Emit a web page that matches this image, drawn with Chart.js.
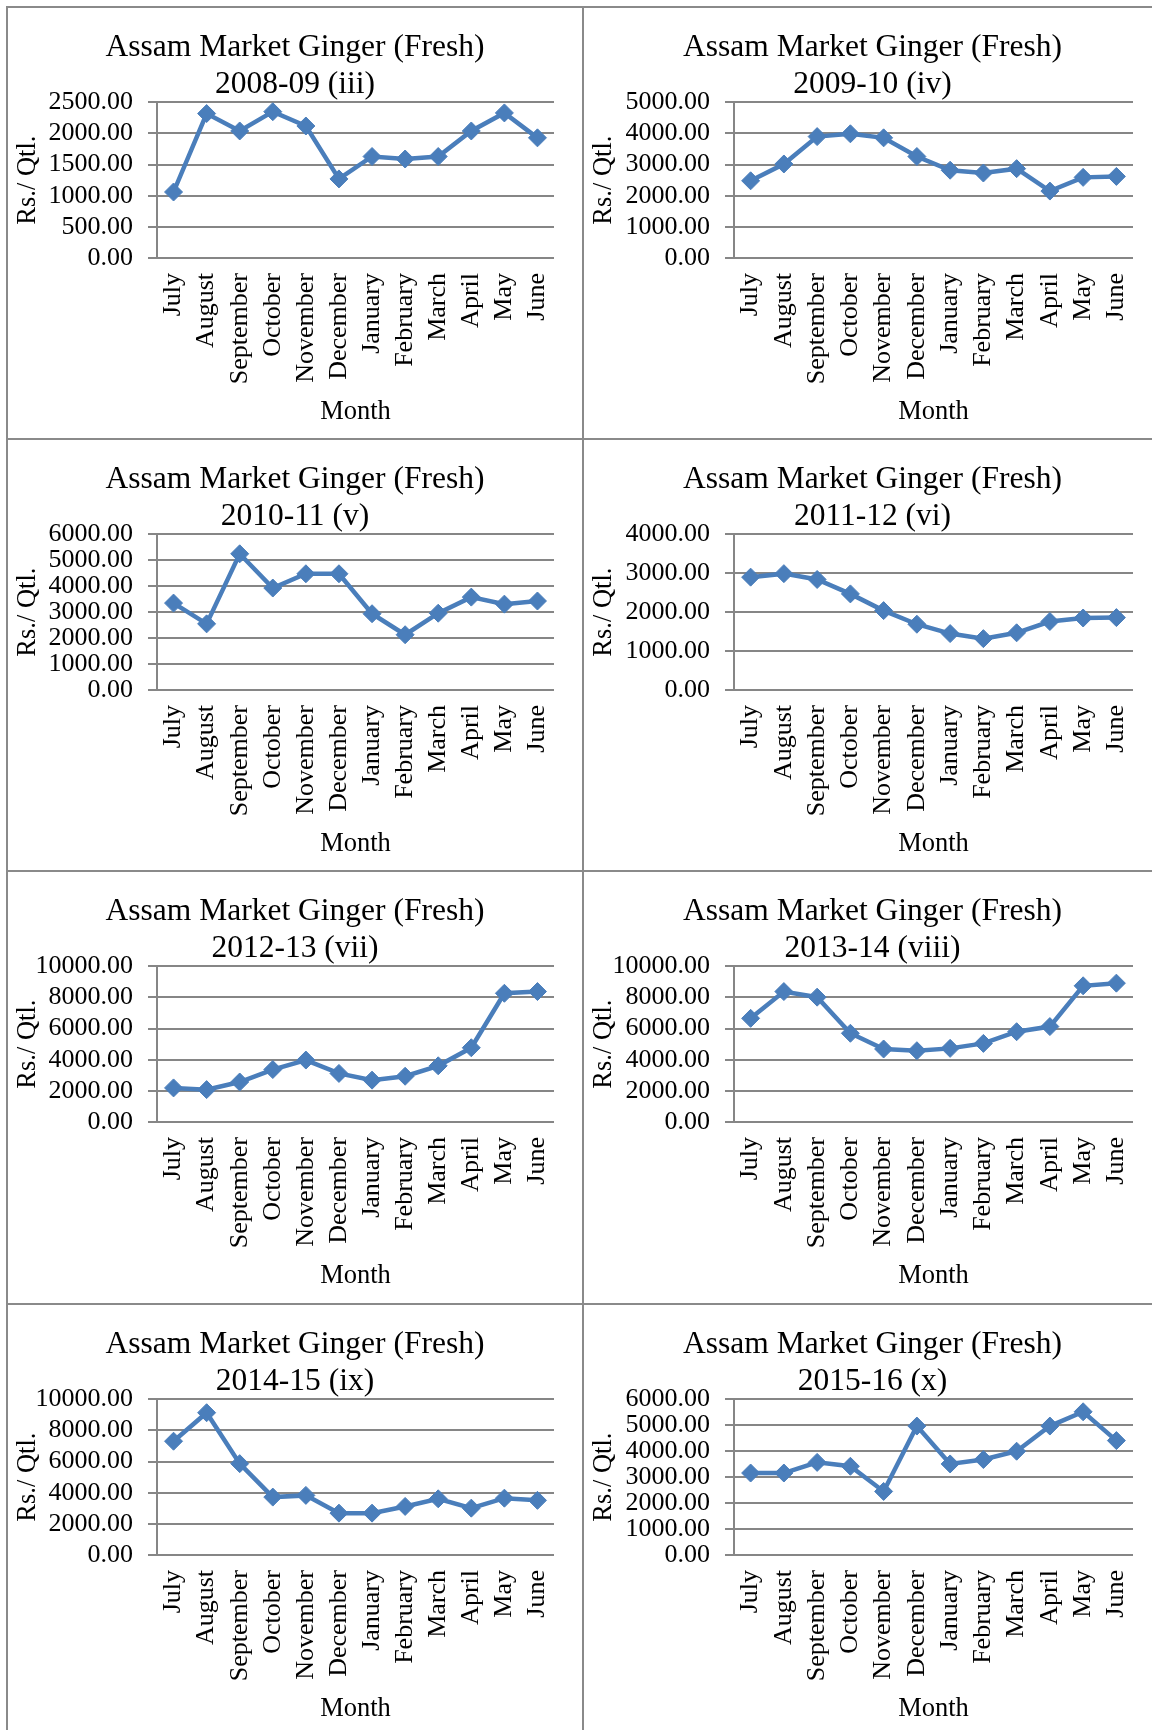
<!DOCTYPE html>
<html>
<head>
<meta charset="utf-8">
<title>Assam Market Ginger (Fresh)</title>
<script src="https://cdn.jsdelivr.net/npm/chart.js@4.4.3/dist/chart.umd.min.js"></script>
<style>
  html, body { margin: 0; padding: 0; background: #fff; }
  body { width: 1152px; height: 1730px; overflow: hidden; position: relative; }
  .rule { position: absolute; background: #8a8a8a; }
  .panel { position: absolute; width: 576px; height: 432px; }
  .panel canvas { display: block; }
</style>
</head>
<body>
<script>
// month order of the marketing year (July -> June)
const months = ['July', 'August', 'September', 'October', 'November', 'December',
  'January', 'February', 'March', 'April', 'May', 'June'];

const seasons = ['2008-09 (iii)', '2009-10 (iv)', '2010-11 (v)', '2011-12 (vi)',
  '2012-13 (vii)', '2013-14 (viii)', '2014-15 (ix)', '2015-16 (x)'];

// Rs./ Qtl.
const price0809 = [1060, 2320, 2040, 2350, 2120, 1270, 1630, 1590, 1630, 2040, 2330, 1930];
const price0910 = [2480, 3020, 3900, 3990, 3860, 3260, 2820, 2730, 2870, 2150, 2590, 2620];
const price1011 = [3350, 2550, 5250, 3930, 4480, 4480, 2940, 2130, 2960, 3580, 3310, 3430];
const price1112 = [2900, 2990, 2840, 2470, 2040, 1690, 1450, 1320, 1470, 1760, 1850, 1860];
const price1213 = [2190, 2080, 2570, 3370, 3980, 3120, 2690, 2940, 3610, 4770, 8270, 8380];
const price1314 = [6660, 8380, 8020, 5700, 4690, 4580, 4730, 5050, 5800, 6130, 8750, 8920];
const price1415 = [7310, 9140, 5870, 3720, 3830, 2690, 2690, 3120, 3610, 3010, 3650, 3510];
const price1516 = [3160, 3160, 3570, 3420, 2450, 4970, 3510, 3680, 4000, 4970, 5520, 4410];

const seasonPrices = [price0809, price0910, price1011, price1112, price1213, price1314, price1415, price1516];

// y axis range per chart
const axisMax = [2500, 5000, 6000, 4000, 10000, 10000, 10000, 6000];
const axisStep = [500, 1000, 1000, 1000, 2000, 2000, 2000, 1000];

const LINE = '#4a7ebb';
const GRID = '#868686';

// table frame and plot box inside each cell
const colX = [7, 583];
const rowY = [7, 439, 871, 1303.5];
const plotLeft = [150, 151];
const plotRight = [547, 550];
const PAD_LEFT = 29;

Chart.defaults.font.family = "'Liberation Serif', 'Times New Roman', serif";
Chart.defaults.color = '#000';

function addRule(left, top, width, height) {
  const d = document.createElement('div');
  d.className = 'rule';
  d.style.left = (left - 1) + 'px';
  d.style.top = (top - 1) + 'px';
  d.style.width = width + 'px';
  d.style.height = height + 'px';
  document.body.appendChild(d);
}

colX.forEach((x) => addRule(x, rowY[0], 2, 1800));
rowY.forEach((y) => addRule(colX[0], y, 1200, 2));

function drawPanel(col, top, season, values, max, step) {
  const wrap = document.createElement('div');
  wrap.className = 'panel';
  wrap.style.left = colX[col] + 'px';
  wrap.style.top = top + 'px';
  const canvas = document.createElement('canvas');
  canvas.width = 576;
  canvas.height = 432;
  wrap.appendChild(canvas);
  document.body.appendChild(wrap);

  const yWidth = plotLeft[col] - PAD_LEFT;

  return new Chart(canvas.getContext('2d'), {
    type: 'line',
    data: {
      labels: months,
      datasets: [
        {
          data: values,
          borderColor: LINE,
          backgroundColor: LINE,
          borderWidth: 4.5,
          tension: 0,
          pointStyle: 'rectRot',
          pointRadius: 9,
          pointBorderWidth: 1,
          pointBackgroundColor: LINE,
          pointBorderColor: LINE,
        },
      ],
    },
    options: {
      responsive: false,
      animation: false,
      events: [],
      layout: { padding: { left: PAD_LEFT, right: 576 - plotRight[col], top: 22, bottom: 11 } },
      plugins: {
        legend: { display: false },
        tooltip: { enabled: false },
        title: {
          display: true,
          text: ['Assam Market Ginger (Fresh)', season],
          color: '#000',
          font: { size: 31.5, weight: 'normal', lineHeight: 1.18 },
          padding: { top: 0, bottom: -1 },
        },
      },
      scales: {
        x: {
          offset: true,
          grid: { display: false, drawTicks: false },
          border: { display: false },
          ticks: {
            color: '#000',
            font: { size: 26 },
            minRotation: 90,
            maxRotation: 90,
            autoSkip: false,
            padding: 15,
          },
          title: { display: true, text: 'Month', color: '#000', font: { size: 26.5 }, padding: 0 },
          afterFit: (scale) => {
            scale.height = 170;
            scale.paddingLeft = 0;
            scale.paddingRight = 0;
          },
        },
        y: {
          min: 0,
          max,
          ticks: {
            stepSize: step,
            autoSkip: false,
            color: '#000',
            font: { size: 26 },
            padding: 15,
            callback: (v) => v.toFixed(2),
          },
          grid: { color: GRID, lineWidth: 2, tickLength: 9 },
          border: { display: true, color: GRID, width: 2 },
          title: {
            display: true,
            text: 'Rs./ Qtl.',
            color: '#000',
            font: { size: 26.5 },
            padding: { top: -24, bottom: 0 },
          },
          afterFit: (scale) => {
            scale.width = yWidth;
          },
        },
      },
    },
  });
}

seasons.forEach((season, i) => {
  drawPanel(i % 2, rowY[Math.floor(i / 2)], season, seasonPrices[i], axisMax[i], axisStep[i]);
});
</script>
</body>
</html>
